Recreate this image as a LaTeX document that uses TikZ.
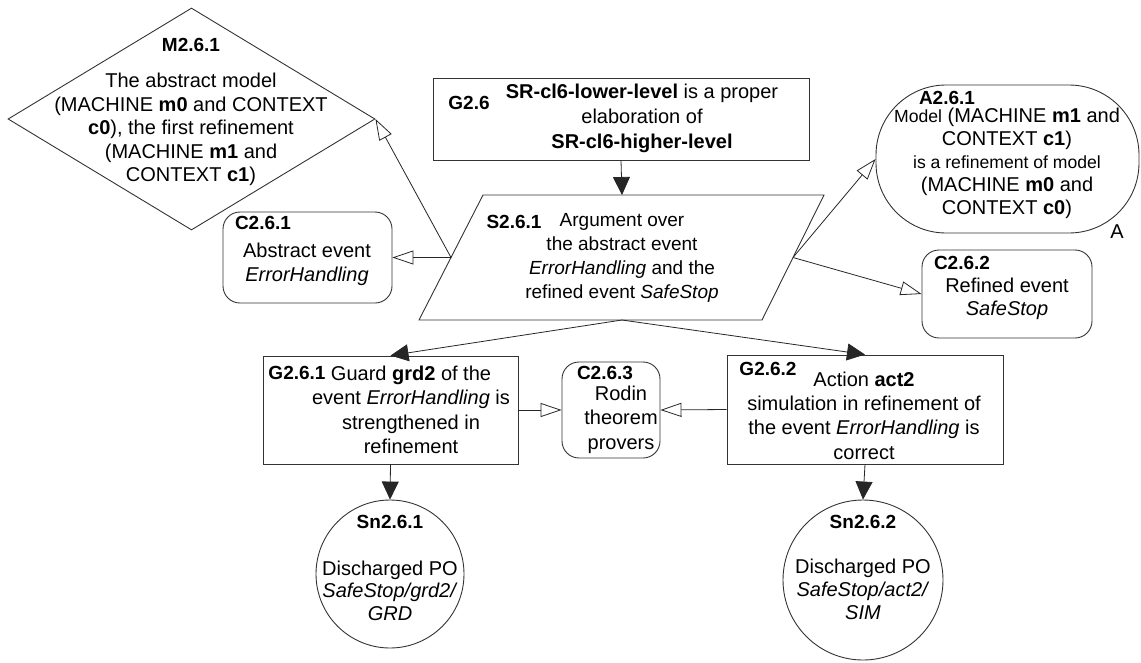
\documentclass[tikz,border=0pt]{standalone}
\usepackage{fontspec}
\setmainfont{Liberation Sans}
\usetikzlibrary{shapes.geometric,arrows.meta}
\newcommand\smallsz{\fontsize{17.6}{23}\selectfont}

\begin{document}
\begin{tikzpicture}[x=1pt,y=-1pt,
  box/.style={draw=black!80, line width=0.9pt, inner sep=0pt},
  ctx/.style={box, rounded corners=17pt},
  lbl/.style={font=\fontsize{19}{22}\selectfont\bfseries, inner sep=0pt},
  body/.style={font=\fontsize{20}{24}\selectfont, align=center, inner sep=0pt},
  solid arrow/.style={draw=black!85, line width=0.8pt, -{Triangle[length=18pt,width=17pt]}},
  ctx arrow/.style={draw=black!85, line width=0.8pt, -{Triangle[open,length=21pt,width=14pt]}},
]
\useasboundingbox (0,0) rectangle (1141,662);

% ---- shapes ----
\node[box, diamond, minimum width=367pt, minimum height=222pt] (M261) at (191.5,119) {};
\node[box, minimum width=376pt, minimum height=82pt] (G26) at (621,119) {};

% strategy: a parallelogram leaning to the right
\coordinate (S-tl) at (483,195);
\coordinate (S-tr) at (824,195);
\coordinate (S-br) at (762,320);
\coordinate (S-bl) at (419,320);
\draw[box] (S-tl) -- (S-tr) -- (S-br) -- (S-bl) -- cycle;
\coordinate (S-top) at (622,195);
\coordinate (S-left) at (451,257.5);
\coordinate (S-right) at (793,257.5);
\coordinate (S-bot) at (622,320);

\node[ctx, minimum width=169pt, minimum height=91pt] (C261) at (307.5,257.5) {};
\node[box, rounded corners=70pt, minimum width=263pt, minimum height=148pt] (A261) at (1007.5,159) {};
\node[ctx, minimum width=170pt, minimum height=88pt] (C262) at (1007,294) {};
\node[box, minimum width=255pt, minimum height=108pt] (G261) at (390.5,410) {};
\node[box, minimum width=276pt, minimum height=109pt] (G262) at (865,409.5) {};
\node[ctx, minimum width=98pt, minimum height=96pt] (C263) at (611,410) {};
\node[box, circle, minimum size=148pt] (Sn1) at (390,574) {};
\node[box, circle, minimum size=160pt] (Sn2) at (863,580) {};

% ---- identifiers ----
\node[lbl] (M261-id) at (191,45) {M2.6.1};
\node[lbl] (G26-id) at (469,103) {G2.6};
\node[lbl] (S261-id) at (514,222) {S2.6.1};
\node[lbl] (C261-id) at (263,223) {C2.6.1};
\node[lbl] (A261-id) at (947,98) {A2.6.1};
\node[lbl] (C262-id) at (962,263) {C2.6.2};
\node[lbl] (G261-id) at (297,373) {G2.6.1};
\node[lbl] (G262-id) at (768,369) {G2.6.2};
\node[lbl] (C263-id) at (605,373) {C2.6.3};
\node[lbl] (Sn1-id) at (390,522) {Sn2.6.1};
\node[lbl] (Sn2-id) at (863,522) {Sn2.6.2};

% ---- texts ----
\node[body, font=\fontsize{20}{23.5}\selectfont] (M261-txt) at (191,129.5)
  {The abstract model\\(MACHINE \textbf{m0} and CONTEXT\\\textbf{c0}), the first refinement\\(MACHINE \textbf{m1} and\\CONTEXT \textbf{c1})};
\node[body, font=\fontsize{20}{25}\selectfont] (G26-txt) at (642,118)
  {\textbf{SR-cl6-lower-level} is a proper\\elaboration of\\\textbf{SR-cl6-higher-level}};
\node[body, font=\fontsize{19}{24}\selectfont] (S261-txt) at (622,258)
  {Argument over\\the abstract event\\\textit{ErrorHandling} and the\\refined event \textit{SafeStop}};
\node[body] (C261-txt) at (307,264) {Abstract event\\\textit{ErrorHandling}};
\node[body, font=\fontsize{20}{23}\selectfont] (A261-txt) at (1007,163.5)
  {{\smallsz Model} (MACHINE \textbf{m1} and\\CONTEXT \textbf{c1})\\{\smallsz is a refinement of model}\\(MACHINE \textbf{m0} and\\CONTEXT \textbf{c0})};
\node[body] (A-mark) at (1117,232) {A};
\node[body, font=\fontsize{20}{23}\selectfont] (C262-txt) at (1007,298.5) {Refined event\\\textit{SafeStop}};
\node[body, font=\fontsize{20}{24.5}\selectfont] (G261-txt) at (411,410)
  {Guard \textbf{grd2} of the\\event \textit{ErrorHandling} is\\strengthened in\\refinement};
\node[body, font=\fontsize{20}{24.3}\selectfont] (G262-txt) at (864,415.5)
  {Action \textbf{act2}\\simulation in refinement of\\the event \textit{ErrorHandling} is\\correct};
\node[body, font=\fontsize{20}{24.5}\selectfont] (C263-txt) at (621,419.5) {Rodin\\theorem\\provers};
\node[body, font=\fontsize{20}{22.5}\selectfont] (Sn1-txt) at (390,590.5)
  {Discharged PO\\\textit{SafeStop/grd2/}\\\textit{GRD}};
\node[body, font=\fontsize{20}{23}\selectfont] (Sn2-txt) at (863,589)
  {Discharged PO\\\textit{SafeStop/act2/}\\\textit{SIM}};

% ---- connectors ----
\draw[solid arrow] (G26.south) -- (S-top);
\draw[ctx arrow] (S-left) -- (C261.east);
\draw[ctx arrow] (S-left) -- (M261.east);
\draw[ctx arrow] (S-right) -- (A261.west);
\draw[ctx arrow] (S-right) -- (C262.west);
\draw[solid arrow] (S-bot) -- (G261.north);
\draw[solid arrow] (S-bot) -- (G262.north);
\draw[ctx arrow] (G261.east) -- (C263.west);
\draw[ctx arrow] (G262.west) -- (C263.east);
\draw[solid arrow] (G261.south) -- (Sn1.north);
\draw[solid arrow] (G262.south) -- (Sn2.north);
\end{tikzpicture}
\end{document}
